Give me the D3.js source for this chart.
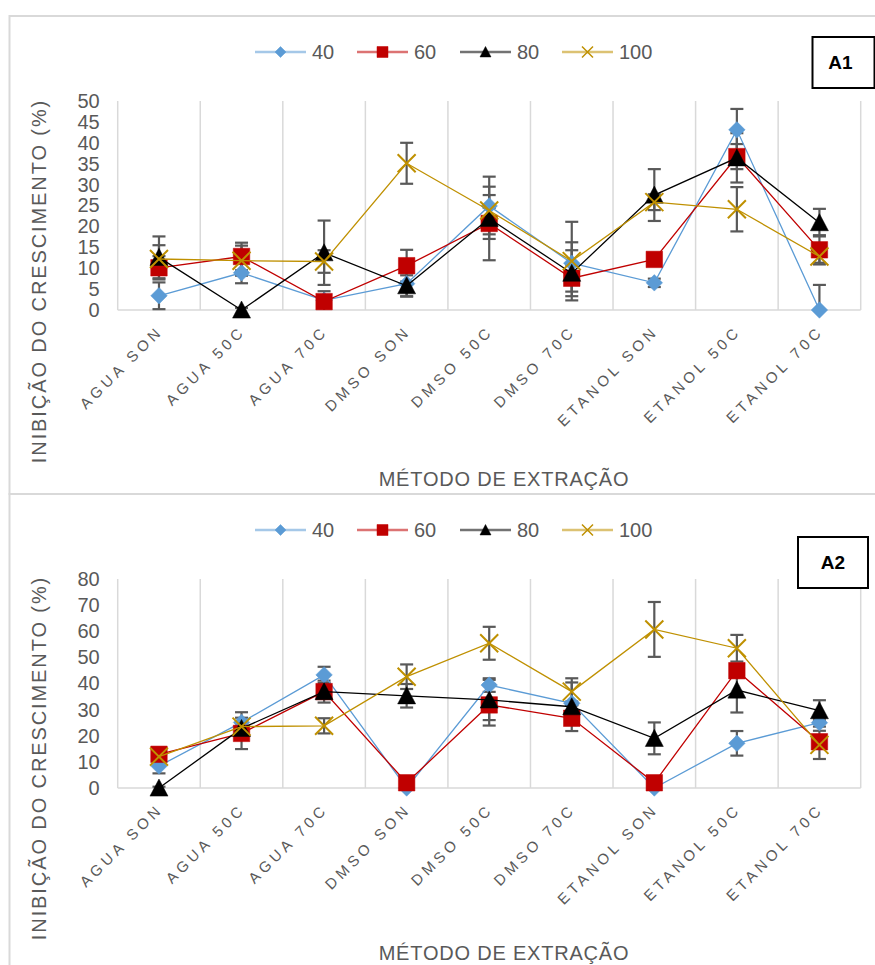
<!DOCTYPE html>
<html>
<head>
<meta charset="utf-8">
<script src="https://cdn.jsdelivr.net/npm/d3@7"></script>
<style>
  html, body { margin: 0; padding: 0; background: #fff; }
  svg { display: block; font-family: Arial, "Liberation Sans", sans-serif; }
</style>
</head>
<body>
<svg id="chart" width="875" height="965"></svg>
<script>
// Extraction methods on the category axis
const categories = ["AGUA SON", "AGUA 50C", "AGUA 70C", "DMSO SON", "DMSO 50C",
                    "DMSO 70C", "ETANOL SON", "ETANOL 50C", "ETANOL 70C"];
// Concentration series shown in the legends
const seriesNames = ["40", "60", "80", "100"];

// Panel A1: growth inhibition (%) and error amplitude
const a1Values40  = [3.4, 8.9, 2.3, 6.3, 24.9, 11.2, 6.5, 43.1, 0];
const a1Values60  = [10.1, 12.8, 2.0, 10.6, 20.7, 7.6, 12.1, 36.7, 14.4];
const a1Values80  = [12.6, 0, 13.7, 5.8, 21.9, 8.8, 27.5, 36.4, 20.9];
const a1Values100 = [12.2, 11.8, 11.6, 35.1, 23.8, 11.7, 25.8, 24.1, 12.8];
const a1Err40  = [3.2, 2.5, 1.0, 3.1, 2.6, 5.0, 1.0, 5.0, 6.0];
const a1Err60  = [2.8, 3.3, 2.5, 3.8, 3.7, 3.2, 1.0, 3.0, 3.5];
const a1Err80  = [5.0, 0.5, 7.7, 2.5, 10.0, 5.5, 6.2, 5.9, 3.3];
const a1Err100 = [3.3, 3.6, 2.7, 4.9, 5.7, 9.4, 1.9, 5.3, 1.5];
const a1Ticks = [0, 5, 10, 15, 20, 25, 30, 35, 40, 45, 50];

// Panel A2: growth inhibition (%) and error amplitude
const a2Values40  = [8.4, 25.1, 43.3, 0, 39.4, 32.4, 0, 17.1, 25.0];
const a2Values60  = [12.9, 20.9, 36.9, 2.0, 31.8, 26.7, 2.0, 44.9, 17.7];
const a2Values80  = [0, 22.8, 36.9, 35.3, 33.7, 31.1, 19.0, 37.5, 29.6];
const a2Values100 = [12.0, 23.5, 23.8, 42.6, 55.4, 36.9, 60.7, 53.5, 16.5];
const a2Err40  = [2.8, 3.9, 3.1, 1.0, 2.6, 8.0, 1.0, 4.7, 1.5];
const a2Err60  = [1.5, 6.0, 4.2, 1.0, 7.9, 4.9, 1.0, 2.0, 2.0];
const a2Err80  = [0.5, 2.0, 2.0, 4.5, 7.7, 2.0, 6.1, 8.6, 4.0];
const a2Err100 = [1.5, 1.5, 2.9, 4.7, 6.3, 5.1, 10.5, 5.1, 5.4];
const a2Ticks = [0, 10, 20, 30, 40, 50, 60, 70, 80];

const yTitle = "INIBIÇÃO DO CRESCIMENTO (%)";
const xTitle = "MÉTODO DE EXTRAÇÃO";

const colors = ["#5b9bd5", "#c00000", "#000000", "#bf9000"];
const shapes = ["diamond", "square", "triangle", "cross"];
const textGray = "#595959";
const gridGray = "#d9d9d9";

const panels = [
  {
    label: "A1", ticks: a1Ticks,
    values: [a1Values40, a1Values60, a1Values80, a1Values100],
    errors: [a1Err40, a1Err60, a1Err80, a1Err100],
    frameY: 16, frameH: 478, legendY: 52,
    plotTop: 101, plotBottom: 310,
    box: { x: 812.5, y: 37, w: 62, h: 51 },
    yTitleY: 281, xTitleY: 486
  },
  {
    label: "A2", ticks: a2Ticks,
    values: [a2Values40, a2Values60, a2Values80, a2Values100],
    errors: [a2Err40, a2Err60, a2Err80, a2Err100],
    frameY: 494, frameH: 520, legendY: 530,
    plotTop: 579, plotBottom: 788,
    box: { x: 798, y: 537, w: 70, h: 51 },
    yTitleY: 758, xTitleY: 960
  }
];

const plotLeft = 117.7, plotRight = 860.7;
const svg = d3.select("#chart");

const x = d3.scaleBand().domain(categories).range([plotLeft, plotRight]).padding(0);
const cx = c => x(c) + x.bandwidth() / 2;

// Marker outlines, centred on the point
function markerPath(shape, s) {
  const h = s / 2;
  if (shape === "diamond") return `M0,${-h}L${h},0L0,${h}L${-h},0Z`;
  if (shape === "square") return `M${-h},${-h}H${h}V${h}H${-h}Z`;
  if (shape === "triangle") return `M0,${-h}L${h},${h * 0.9}L${-h},${h * 0.9}Z`;
  return `M${-h},${-h}L${h},${h}M${-h},${h}L${h},${-h}`;
}
function drawMarker(g, shape, color, s, px, py, strokeW) {
  const p = g.append("path")
    .attr("d", markerPath(shape, s))
    .attr("transform", `translate(${px},${py})`);
  if (shape === "cross") {
    p.attr("fill", "none").attr("stroke", color).attr("stroke-width", strokeW);
  } else {
    p.attr("fill", color).attr("stroke", color).attr("stroke-width", 0.5);
  }
}

panels.forEach(panel => {
  const g = svg.append("g");
  const yMax = panel.ticks[panel.ticks.length - 1];
  const y = d3.scaleLinear().domain([0, yMax]).range([panel.plotBottom, panel.plotTop]);

  // Chart frame
  g.append("rect")
    .attr("x", 9.5).attr("y", panel.frameY)
    .attr("width", 900).attr("height", panel.frameH)
    .attr("fill", "#fff").attr("stroke", gridGray).attr("stroke-width", 2);

  // Vertical category gridlines
  const bounds = d3.range(categories.length + 1).map(i => plotLeft + i * x.bandwidth());
  g.selectAll("line.grid").data(bounds).join("line")
    .attr("class", "grid")
    .attr("x1", d => d).attr("x2", d => d)
    .attr("y1", panel.plotTop).attr("y2", panel.plotBottom)
    .attr("stroke", gridGray).attr("stroke-width", 1.5);

  // Baseline
  g.append("line")
    .attr("x1", plotLeft).attr("x2", plotRight)
    .attr("y1", panel.plotBottom).attr("y2", panel.plotBottom)
    .attr("stroke", gridGray).attr("stroke-width", 1.5);

  // Value axis
  const yAxis = g.append("g")
    .attr("transform", `translate(${plotLeft},0)`)
    .call(d3.axisLeft(y).tickValues(panel.ticks).tickSize(0).tickPadding(18));
  yAxis.select(".domain").remove();
  yAxis.selectAll("text")
    .attr("font-size", 20).attr("fill", textGray)
    .attr("font-family", "Arial, 'Liberation Sans', sans-serif");

  // Category axis, labels rotated
  const xAxis = g.append("g")
    .attr("transform", `translate(0,${panel.plotBottom})`)
    .call(d3.axisBottom(x).tickSize(0));
  xAxis.select(".domain").remove();
  xAxis.selectAll("text")
    .attr("y", null).attr("dy", null)
    .attr("text-anchor", "end")
    .attr("transform", "translate(5,22) rotate(-45)")
    .attr("font-size", 15).attr("fill", textGray)
    .attr("letter-spacing", 4)
    .attr("font-family", "Arial, 'Liberation Sans', sans-serif");

  // Error bars
  const eg = g.append("g").attr("stroke", textGray).attr("stroke-width", 2.2);
  panel.values.forEach((vals, si) => {
    vals.forEach((v, i) => {
      const e = panel.errors[si][i];
      const hi = Math.min(yMax, v + e), lo = Math.max(0, v - e);
      const px = cx(categories[i]);
      eg.append("line").attr("x1", px).attr("x2", px).attr("y1", y(lo)).attr("y2", y(hi));
      if (v + e <= yMax) eg.append("line").attr("x1", px - 6.5).attr("x2", px + 6.5).attr("y1", y(hi)).attr("y2", y(hi));
      if (v - e >= 0) eg.append("line").attr("x1", px - 6.5).attr("x2", px + 6.5).attr("y1", y(lo)).attr("y2", y(lo));
    });
  });

  // Series lines and markers
  const line = d3.line().x((d, i) => cx(categories[i])).y(d => y(d));
  panel.values.forEach((vals, si) => {
    const sg = g.append("g");
    sg.append("path").datum(vals)
      .attr("d", line).attr("fill", "none")
      .attr("stroke", colors[si]).attr("stroke-width", 1.3);
    vals.forEach((v, i) => {
      const size = shapes[si] === "cross" ? 18 : (shapes[si] === "triangle" ? 18 : 16.5);
      drawMarker(sg, shapes[si], colors[si], size, cx(categories[i]), y(v), 2);
    });
  });

  // Legend
  const legendX = [255, 357, 460, 562];
  const lg = g.append("g");
  seriesNames.forEach((name, si) => {
    const lx = legendX[si], ly = panel.legendY;
    lg.append("line")
      .attr("x1", lx).attr("x2", lx + 51).attr("y1", ly).attr("y2", ly)
      .attr("stroke", colors[si]).attr("stroke-width", 2.6).attr("stroke-opacity", 0.55);
    drawMarker(lg, shapes[si], colors[si], 11, lx + 25.5, ly, 1.5);
    lg.append("text")
      .attr("x", lx + 57).attr("y", ly).attr("dy", "0.35em")
      .attr("font-size", 20).attr("fill", textGray)
      .text(name);
  });

  // Panel label box
  g.append("rect")
    .attr("x", panel.box.x).attr("y", panel.box.y)
    .attr("width", panel.box.w).attr("height", panel.box.h)
    .attr("fill", "#fff").attr("stroke", "#000").attr("stroke-width", 2);
  g.append("text")
    .attr("x", panel.box.x + panel.box.w / 2 - (panel.label === "A1" ? 3 : 0))
    .attr("y", panel.box.y + panel.box.h / 2).attr("dy", "0.36em")
    .attr("text-anchor", "middle").attr("font-size", 19).attr("font-weight", "bold")
    .attr("fill", "#000").text(panel.label);

  // Axis titles
  g.append("text")
    .attr("transform", `translate(46,${panel.yTitleY}) rotate(-90)`)
    .attr("text-anchor", "middle").attr("font-size", 20)
    .attr("letter-spacing", 1.9).attr("fill", textGray)
    .text(yTitle);
  g.append("text")
    .attr("x", 504).attr("y", panel.xTitleY)
    .attr("text-anchor", "middle").attr("font-size", 20)
    .attr("letter-spacing", 0.8).attr("fill", textGray)
    .text(xTitle);
});
</script>
</body>
</html>
